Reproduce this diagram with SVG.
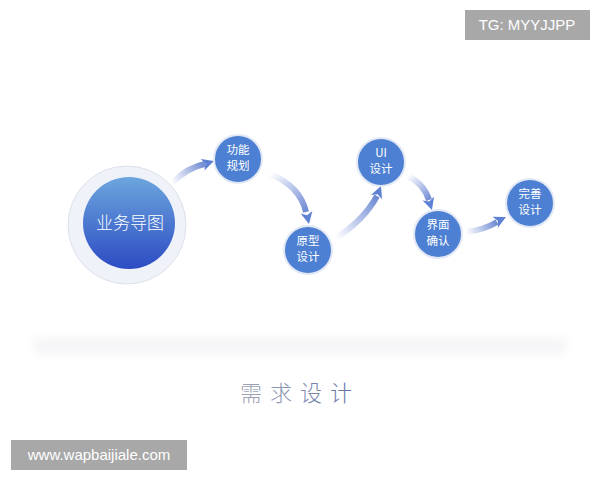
<svg xmlns="http://www.w3.org/2000/svg" width="600" height="480" viewBox="0 0 600 480">
<style>
.lbl{font-family:"Noto Sans CJK SC","Liberation Sans",sans-serif;font-size:11.5px;fill:#fff;text-anchor:middle}
.node{fill:#4d80d2;stroke:#e2e8f5;stroke-width:2}
.shaft{fill:none;stroke-width:6;stroke-linecap:butt}
.head{fill:#5f81d3}
.wm{fill:#a8a8a8}
.wmt{font-family:"Liberation Sans",Arial,sans-serif;font-size:15px;fill:#fff;text-anchor:middle}
</style>
<defs>
<linearGradient id="mainG" x1="0" y1="0" x2="0" y2="1">
<stop offset="0" stop-color="#6ca6dd"/>
<stop offset="1" stop-color="#2c4bc3"/>
</linearGradient>
<linearGradient id="titleG" x1="0" y1="0" x2="1" y2="0">
<stop offset="0" stop-color="#a2a7b5"/>
<stop offset="1" stop-color="#5d6fa8"/>
</linearGradient>
<linearGradient id="a1" gradientUnits="userSpaceOnUse" x1="172" y1="183" x2="206" y2="163"><stop offset="0" stop-color="#6a86d2" stop-opacity="0"/><stop offset="1" stop-color="#6a86d2"/></linearGradient>
<linearGradient id="a2" gradientUnits="userSpaceOnUse" x1="270" y1="174" x2="306" y2="214"><stop offset="0" stop-color="#6a86d2" stop-opacity="0"/><stop offset="1" stop-color="#6a86d2"/></linearGradient>
<linearGradient id="a3" gradientUnits="userSpaceOnUse" x1="336" y1="238" x2="378" y2="195"><stop offset="0" stop-color="#6a86d2" stop-opacity="0"/><stop offset="1" stop-color="#6a86d2"/></linearGradient>
<linearGradient id="a4" gradientUnits="userSpaceOnUse" x1="408" y1="176" x2="430" y2="202"><stop offset="0" stop-color="#6a86d2" stop-opacity="0"/><stop offset="1" stop-color="#6a86d2"/></linearGradient>
<linearGradient id="a5" gradientUnits="userSpaceOnUse" x1="466" y1="232" x2="498" y2="221"><stop offset="0" stop-color="#6a86d2" stop-opacity="0"/><stop offset="1" stop-color="#6a86d2"/></linearGradient>
<filter id="blur" x="-10%" y="-100%" width="120%" height="300%"><feGaussianBlur stdDeviation="4"/></filter>
</defs>
<rect width="600" height="480" fill="#fff"/>

<rect x="32" y="337" width="536" height="18" rx="9" fill="#f6f6f8" filter="url(#blur)"/>

<g id="connectors">
<path class="shaft" stroke="url(#a1)" d="M172,183 Q188,167 205,164"/>
<polygon class="head" points="0,0 -12,-6 -9,0 -12,6" transform="translate(214,161) rotate(-18)"/>
<path class="shaft" stroke="url(#a2)" d="M270,174 Q300,186 306,212"/>
<polygon class="head" points="0,0 -12,-6 -9,0 -12,6" transform="translate(309,224) rotate(78)"/>
<path class="shaft" stroke="url(#a3)" d="M336,238 Q364,220 377,196"/>
<polygon class="head" points="0,0 -12,-6 -9,0 -12,6" transform="translate(381,186) rotate(-68)"/>
<path class="shaft" stroke="url(#a4)" d="M408,176 Q424,184 429,200"/>
<polygon class="head" points="0,0 -12,-6 -9,0 -12,6" transform="translate(432,210) rotate(72)"/>
<path class="shaft" stroke="url(#a5)" d="M466,232 Q484,230 497,222"/>
<polygon class="head" points="0,0 -12,-6 -9,0 -12,6" transform="translate(506,217) rotate(-26)"/>
</g>

<g id="main">
<circle cx="127" cy="225" r="59" fill="#f0f2fa" stroke="#dde0ea" stroke-width="1"/>
<circle cx="129" cy="223" r="46" fill="url(#mainG)"/>
<text x="130" y="229" font-family="Noto Sans CJK SC,Liberation Sans,sans-serif" font-size="17" fill="#fff" text-anchor="middle" font-weight="300">业务导图</text>
</g>

<g id="n1">
<circle class="node" cx="238" cy="159" r="24"/>
<text class="lbl" x="238" y="154">功能</text>
<text class="lbl" x="238" y="170">规划</text>
</g>
<g id="n2">
<circle class="node" cx="308" cy="250" r="24"/>
<text class="lbl" x="308" y="245">原型</text>
<text class="lbl" x="308" y="261">设计</text>
</g>
<g id="n3">
<circle class="node" cx="381" cy="162" r="24"/>
<text class="lbl" x="381" y="157">UI</text>
<text class="lbl" x="381" y="173">设计</text>
</g>
<g id="n4">
<circle class="node" cx="438" cy="234" r="24"/>
<text class="lbl" x="438" y="229">界面</text>
<text class="lbl" x="438" y="245">确认</text>
</g>
<g id="n5">
<circle class="node" cx="530" cy="203" r="24"/>
<text class="lbl" x="530" y="198">完善</text>
<text class="lbl" x="530" y="214">设计</text>
</g>

<text x="300" y="401" font-family="Noto Sans CJK SC,Liberation Sans,sans-serif" font-size="22" font-weight="200" letter-spacing="8" fill="url(#titleG)" text-anchor="middle">需求设计</text>

<rect class="wm" x="465" y="10" width="125" height="30"/>
<text class="wmt" x="527" y="30">TG: MYYJJPP</text>
<rect class="wm" x="11" y="440" width="176" height="30"/>
<text class="wmt" x="99" y="460">www.wapbaijiale.com</text>
</svg>
